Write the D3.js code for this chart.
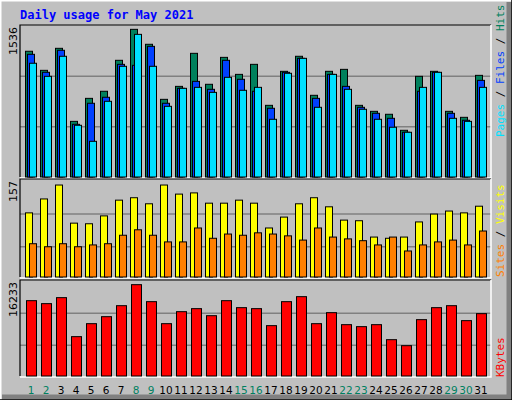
<!DOCTYPE html><html><head><script src="https://cdn.jsdelivr.net/npm/d3@7"></script>
<style>body{margin:0;background:#fff}</style></head><body><svg id="c" width="512" height="400"></svg>
<script>
const days=d3.range(1,32);
const weekend=[1,2,8,9,15,16,22,23,29,30];
const hits=[1279,1085,1309,566,800,872,1187,1502,1350,790,922,1258,943,1217,1044,1146,729,1075,1228,831,1075,1095,729,668,638,475,1024,1075,668,607,1034];
const files=[1248,1065,1289,536,750,811,1146,1136,1329,750,902,973,892,1187,994,872,699,1065,1207,800,1044,922,709,648,597,455,872,1065,648,577,983];
const pages=[1157,1024,1228,526,363,770,1126,1451,1126,719,902,912,861,1014,882,912,587,1055,1207,709,1044,892,689,587,506,455,912,1065,597,566,912];
const visits=[106,129,152,89,88,101,127,131,121,152,137,139,122,122,127,122,81,99,121,131,116,94,93,66,64,66,91,104,109,106,117];
const sites=[55,50,55,50,53,55,69,78,69,58,58,81,64,71,69,73,71,68,61,81,66,63,60,53,66,43,53,58,61,53,76];
const kbytes=[12940,12430,13460,6760,8990,10190,12080,15690,12770,8990,11050,11570,10360,12940,11740,11570,8650,12770,13630,8990,10880,8820,8480,8820,6240,5210,9680,11740,12080,9510,10710];
const maxTop=1536,maxMid=157,maxBot=16233;

const svg=d3.select("#c");
svg.append("rect").attr("width",512).attr("height",400).attr("fill","#c0c0c0");
// 3D frame
svg.append("path").attr("d","M0,400V0H512").attr("stroke","#fff").attr("stroke-width",3).attr("fill","none");
svg.append("path").attr("d","M509,2V397H2").attr("stroke","#808080").attr("stroke-width",5).attr("fill","none");
svg.append("path").attr("d","M512,0V400H0").attr("stroke","#000").attr("stroke-width",1.5).attr("fill","none");
svg.append("text").attr("x",20).attr("y",19).attr("fill","#0000ff").attr("font-family","DejaVu Sans Mono").attr("font-weight","bold").attr("font-size",12).text("Daily usage for May 2021");

const x=d3.scaleLinear().domain([1,31]).range([25,475]);
const panels=[{top:25,bot:177,max:maxTop,label:"1536",grid:[1024,512]},
 {top:179,bot:277,max:maxMid,label:"157",grid:[104,50]},
 {top:280,bot:376,max:maxBot,label:"16233",grid:[10800,5300]}];
const ys=[d3.scaleLinear().domain([0,maxTop]).range([177,26]),
          d3.scaleLinear().domain([0,maxMid]).range([277,182]),
          d3.scaleLinear().domain([0,maxBot]).range([376,281.5])];
panels.forEach((p,i)=>{
  svg.append("rect").attr("x",20).attr("y",p.top).attr("width",471).attr("height",p.bot-p.top).attr("fill","#c0c0c0");
  p.grid.forEach(g=>svg.append("line").attr("x1",20).attr("x2",491).attr("y1",ys[i](g)).attr("y2",ys[i](g)).attr("stroke","#808080").attr("stroke-width",1.5));
  svg.append("path").attr("d",`M20,${p.bot}V${p.top}H491`).attr("stroke","#000").attr("fill","none").attr("stroke-width",1.2);
  svg.append("path").attr("d",`M491,${p.top}V${p.bot+1}H20`).attr("stroke","#fff").attr("fill","none").attr("stroke-width",1.5);
  svg.append("text").attr("transform",`translate(17,${p.top+2}) rotate(-90)`).attr("text-anchor","end").attr("font-family","DejaVu Sans").attr("font-size",11).attr("fill","#000").text(p.label);
});
function bars(data,sc,off,w,col){
  svg.append("g").selectAll("rect").data(data).join("rect")
   .attr("x",(d,i)=>x(days[i])+off).attr("width",w)
   .attr("y",d=>sc(d)).attr("height",d=>sc(0)-sc(d))
   .attr("fill",col).attr("stroke","#000").attr("stroke-width",1);
}
bars(hits,ys[0],0.5,7,"#00805c");
bars(files,ys[0],2.5,7,"#0040ff");
bars(pages,ys[0],4.5,7,"#00e0ff");
bars(visits,ys[1],0.5,7,"#ffff00");
bars(sites,ys[1],4.5,7,"#ff8000");
bars(kbytes,ys[2],1.5,10,"#ff0000");
svg.append("g").selectAll("text").data(days).join("text")
 .attr("x",d=>x(d)+6).attr("y",394).attr("text-anchor","middle")
 .attr("font-family","DejaVu Sans").attr("font-size",10.5)
 .attr("fill",d=>weekend.includes(d)?"#008060":"#000").text(d=>d);
function side(y,parts){
  const t=svg.append("text").attr("transform",`translate(504,${y}) rotate(-90)`).attr("font-family","DejaVu Sans Mono").attr("font-size",11).attr("text-anchor","start");
  parts.forEach(([s,c])=>t.append("tspan").attr("fill",c).text(s));
}
side(137,[["Pages","#00e0ff"],[" / ","#000"],["Files","#0040ff"],[" / ","#000"],["Hits","#00805c"]]);
side(277,[["Sites","#ff8000"],[" / ","#000"],["Visits","#ffff00"]]);
side(377,[["KBytes","#ff0000"]]);
</script></body></html>
